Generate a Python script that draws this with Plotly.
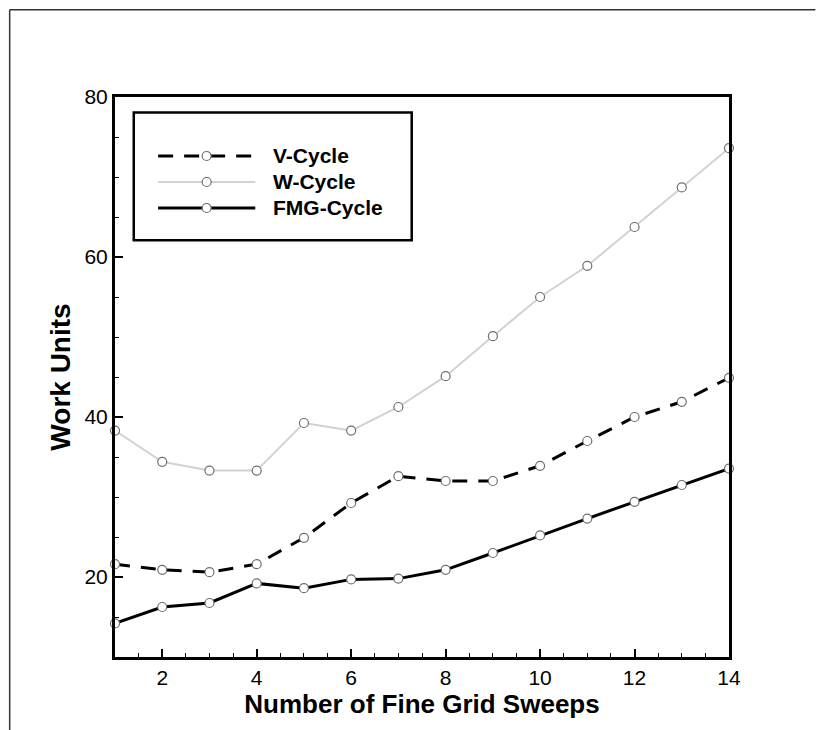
import plotly.graph_objects as go

sweeps = list(range(1, 15))
v_cycle = [21.6, 20.9, 20.6, 21.6, 24.9, 29.25, 32.6, 32.0, 32.0, 33.9, 37.0, 40.0, 41.9, 44.9]
w_cycle = [38.3, 34.4, 33.3, 33.3, 39.25, 38.3, 41.25, 45.1, 50.1, 55.0, 58.9, 63.75, 68.7, 73.6]
fmg_cycle = [14.2, 16.25, 16.75, 19.2, 18.6, 19.7, 19.8, 20.9, 23.0, 25.2, 27.3, 29.4, 31.5, 33.55]
series_names = ["V-Cycle", "W-Cycle", "FMG-Cycle"]

W, H = 816, 730
L, R, T, B = 114.5, 86.5, 96.7, 73.3
pw, ph = W - L - R, H - T - B

def px(x):
    return (x - L) / pw

def py(y):
    return (H - B - y) / ph

marker_line = "#6e6e6e"
marker = dict(symbol="circle", size=9, color="white", line=dict(color=marker_line, width=1.2))
styles = [
    dict(color="black", width=3, dash="15px,11px"),
    dict(color="#d2d2d2", width=2, dash="solid"),
    dict(color="black", width=3, dash="solid"),
]

fig = go.Figure()
for name, vals, st in zip(series_names, [v_cycle, w_cycle, fmg_cycle], styles):
    fig.add_trace(go.Scatter(x=sweeps, y=vals, name=name, mode="lines+markers",
                             line=st, marker=marker, cliponaxis=False, showlegend=False))

font_fam = "Arial, Liberation Sans, sans-serif"

shapes = [
    dict(type="rect", xref="paper", yref="paper",
         x0=px(133.3), x1=px(411.7), y0=py(240), y1=py(112.3),
         line=dict(color="black", width=2.5), fillcolor="rgba(0,0,0,0)", layer="above"),
    dict(type="line", xref="paper", yref="paper",
         x0=px(9), x1=px(816), y0=py(9.5), y1=py(9.5),
         line=dict(color="#333333", width=1.5)),
    dict(type="line", xref="paper", yref="paper",
         x0=px(9), x1=px(9), y0=py(9.5), y1=py(730),
         line=dict(color="#333333", width=1.5)),
]
annotations = []
row_y = [155.7, 181.7, 207.7]
for name, st, ry in zip(series_names, styles, row_y):
    dash = "15px,11px" if st["dash"] != "solid" else "solid"
    shapes.append(dict(type="line", xref="paper", yref="paper",
                       x0=px(157.7), x1=px(255), y0=py(ry), y1=py(ry),
                       line=dict(color=st["color"], width=st["width"], dash=dash)))
    shapes.append(dict(type="circle", xref="paper", yref="paper",
                       x0=px(206.3 - 4.5), x1=px(206.3 + 4.5), y0=py(ry + 4.5), y1=py(ry - 4.5),
                       line=dict(color=marker_line, width=1.2), fillcolor="white"))
    annotations.append(dict(text=name, xref="paper", yref="paper", x=px(271), y=py(ry),
                            xanchor="left", yanchor="middle", showarrow=False,
                            font=dict(size=21, family=font_fam, weight="bold", color="black")))

fig.update_layout(
    width=W, height=H,
    margin=dict(l=L, r=R, t=T, b=B),
    paper_bgcolor="white", plot_bgcolor="white",
    font=dict(family=font_fam, color="black"),
    showlegend=False,
    xaxis=dict(
        range=[1, 14], tick0=0, dtick=2, ticks="inside", ticklen=8, tickwidth=2,
        tickcolor="black", showline=True, linewidth=3, linecolor="black", mirror=True,
        showgrid=False, zeroline=False,
        tickfont=dict(size=21, family=font_fam),
        minor=dict(dtick=0.5, tick0=0, ticks="inside", ticklen=4, tickwidth=1, tickcolor="black", showgrid=False),
        title=dict(text="Number of Fine Grid Sweeps", font=dict(size=26, family=font_fam, weight="bold"), standoff=5),
    ),
    yaxis=dict(
        range=[10, 80], tick0=0, dtick=20, ticks="inside", ticklen=8, tickwidth=2,
        tickcolor="black", showline=True, linewidth=3, linecolor="black", mirror=True,
        showgrid=False, zeroline=False,
        tickfont=dict(size=21, family=font_fam),
        minor=dict(dtick=5, tick0=0, ticks="inside", ticklen=4, tickwidth=1, tickcolor="black", showgrid=False),
        title=dict(text="Work Units", font=dict(size=28, family=font_fam, weight="bold"), standoff=6),
    ),
    shapes=shapes,
    annotations=annotations,
)

fig.write_html("out.html")
